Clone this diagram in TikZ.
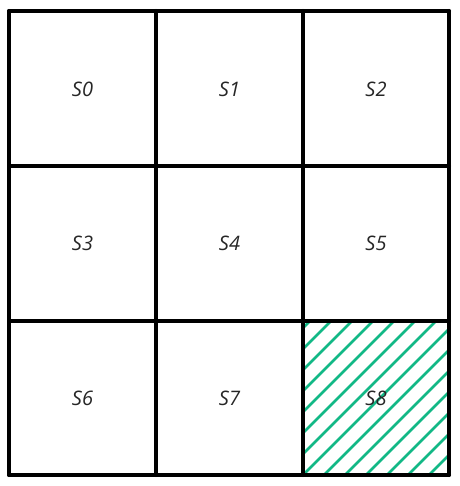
\documentclass[tikz,border=0pt]{standalone}
\usepackage{fontspec}
\setmainfont{Open Sans}
\definecolor{hatchgreen}{HTML}{12B886}
\begin{document}
\begin{tikzpicture}[x=1pt,y=-1pt,
  gridline/.style={line width=4pt,line cap=round,black},
  hatchline/.style={line width=2.6pt,hatchgreen},
  lbl/.style={font=\fontsize{20}{20}\selectfont\itshape, text=black!85}]
\useasboundingbox (0,0) rectangle (459,486);
% hatch of S8
\begin{scope}
\clip (303,321) rectangle (449,475);
\foreach \k in {-10,...,10} {
  \draw[hatchline] (303+\k*21,475) -- (303+\k*21+160,315);
}
\end{scope}
% grid
\foreach \x in {9,156,303,449} \draw[gridline] (\x,11) -- (\x,475);
\foreach \y in {11,166,321,475} \draw[gridline] (9,\y) -- (449,\y);
% labels
\node[lbl] (s0) at (82.5,89) {S0};
\node[lbl] (s1) at (229.5,89) {S1};
\node[lbl] (s2) at (376,89) {S2};
\node[lbl] (s3) at (82.5,243.5) {S3};
\node[lbl] (s4) at (229.5,243.5) {S4};
\node[lbl] (s5) at (376,243.5) {S5};
\node[lbl] (s6) at (82.5,398) {S6};
\node[lbl] (s7) at (229.5,398) {S7};
\node[lbl] (s8) at (376,398) {S8};
\end{tikzpicture}
\end{document}
